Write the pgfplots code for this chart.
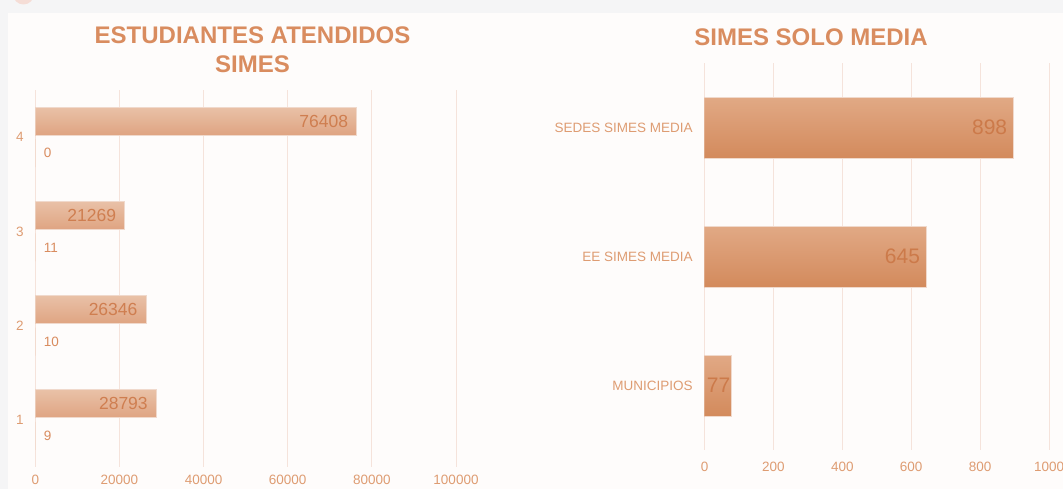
\documentclass[border=0pt]{standalone}
\usepackage{pgfplots}
\pgfplotsset{compat=1.18}
\usepackage{fontspec}
\setmainfont{Liberation Sans}
\definecolor{outerbg}{HTML}{F5F5F6}
\definecolor{panelbg}{HTML}{FEFCFB}
\definecolor{pinkdot}{HTML}{F5DDD6}
\definecolor{titlec}{HTML}{D98C5F}
\definecolor{tickc}{HTML}{DE9C72}
\definecolor{gridc}{HTML}{F5E3DB}
\definecolor{lbartop}{HTML}{E9C1A7}
\definecolor{lbarbot}{HTML}{DFA482}
\definecolor{rbartop}{HTML}{E1A985}
\definecolor{rbarbot}{HTML}{D38A5C}
\definecolor{lvalc}{HTML}{CF7E50}
\definecolor{rvalc}{HTML}{CC7A4A}
\definecolor{shadowc}{HTML}{F0D9CC}
\begin{document}
\begin{tikzpicture}[x=1bp,y=1bp]
\useasboundingbox (0,0) rectangle (1063,489);
\fill[outerbg] (0,0) rectangle (1063,489);
\fill[panelbg] (8,0) rectangle (1063,476.3);
\fill[pinkdot] (23.5,495) circle (10.5);
% titles
\node[anchor=base, text=titlec, font=\fontsize{24bp}{28bp}\selectfont\bfseries] at (252.5,445) {ESTUDIANTES ATENDIDOS};
\node[anchor=base, text=titlec, font=\fontsize{24bp}{28bp}\selectfont\bfseries] at (252.5,416) {SIMES};
\node[anchor=base, text=titlec, font=\fontsize{24bp}{28bp}\selectfont\bfseries] at (811,443) {SIMES SOLO MEDIA};

% ---------------- left chart ----------------
\begin{axis}[
  at={(35.3bp,22bp)}, anchor=south west,
  scale only axis, width=420.7bp, height=377bp,
  xmin=0, xmax=100000, ymin=0.5, ymax=4.5,
  xtick={0,20000,40000,60000,80000,100000},
  xticklabels={0,20000,40000,60000,80000,100000},
  ytick={1,2,3,4}, yticklabels={1,2,3,4},
  scaled x ticks=false,
  axis line style={draw=none}, tick style={draw=none},
  xmajorgrids, major grid style={gridc, line width=1bp},
  ticklabel style={text=tickc, font=\fontsize{13.5bp}{16bp}\selectfont},
  yticklabel style={xshift=-4bp},
  xticklabel style={yshift=-5bp},
  xbar, bar width=28bp,
  point meta=explicit symbolic,
  nodes near coords,
  lbar/.style={xbar, bar shift=16bp, draw=shadowc, line width=0.8bp, top color=lbartop, bottom color=lbarbot,
    every node near coord/.append style={anchor=east, xshift=-5bp, text=lvalc, font=\fontsize{17.5bp}{20bp}\selectfont}},
]
\addplot[lbar] coordinates {(28793,1) [28793]};
\addplot[lbar] coordinates {(26346,2) [26346]};
\addplot[lbar] coordinates {(21269,3) [21269]};
\addplot[lbar] coordinates {(76408,4) [76408]};
\addplot[xbar, bar shift=-16bp, draw=none, fill=lbarbot,
  every node near coord/.append style={anchor=west, xshift=5bp, text=titlec, font=\fontsize{13.5bp}{16bp}\selectfont}]
  coordinates {(9,1) [9] (10,2) [10] (11,3) [11] (0,4) [0]};
\end{axis}

% ---------------- right chart ----------------
\begin{axis}[
  at={(704.5bp,39bp)}, anchor=south west,
  scale only axis, width=344.5bp, height=386.7bp,
  xmin=0, xmax=1000, ymin=0.5, ymax=3.5,
  xtick={0,200,400,600,800,1000},
  xticklabels={0,200,400,600,800,1000},
  ytick={1,2,3}, yticklabels={MUNICIPIOS,EE SIMES MEDIA,SEDES SIMES MEDIA},
  axis line style={draw=none}, tick style={draw=none},
  xmajorgrids, major grid style={gridc, line width=1bp},
  ticklabel style={text=tickc, font=\fontsize{13.5bp}{16bp}\selectfont},
  yticklabel style={xshift=-4bp},
  xticklabel style={yshift=-9bp},
  xbar, bar width=61bp,
  point meta=explicit symbolic,
  nodes near coords,
  rbar/.style={xbar, bar shift=0bp, draw=shadowc, line width=0.8bp, top color=rbartop, bottom color=rbarbot,
    every node near coord/.append style={anchor=east, xshift=-3bp, text=rvalc, font=\fontsize{21bp}{24bp}\selectfont}},
]
\addplot[rbar, every node near coord/.append style={xshift=6bp}] coordinates {(77,1) [77]};
\addplot[rbar] coordinates {(645,2) [645]};
\addplot[rbar] coordinates {(898,3) [898]};
\end{axis}
\end{tikzpicture}
\end{document}
